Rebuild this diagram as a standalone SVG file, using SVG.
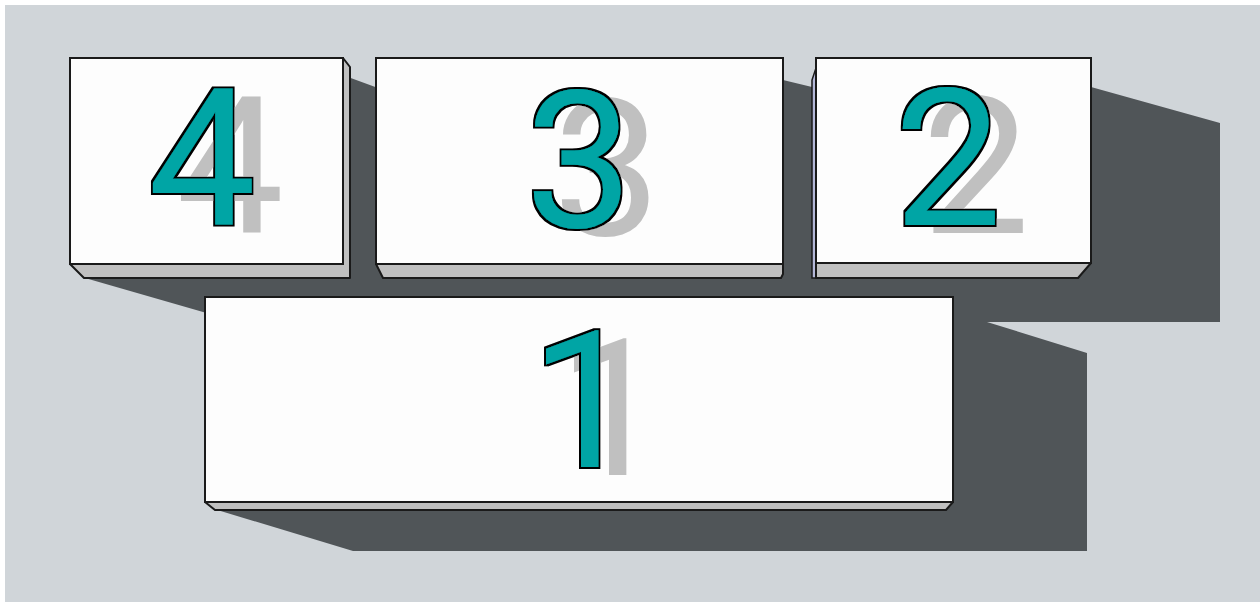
<svg xmlns="http://www.w3.org/2000/svg" width="1260" height="602" viewBox="0 0 1260 602">
<style>
.front{fill:#fdfdfd;stroke:#1a1a1a;stroke-width:2}
.bevel{fill:#c0c0c0;stroke:#1a1a1a;stroke-width:2;stroke-linejoin:round}
.side{fill:#b4b8d8;stroke:#1a1a1a;stroke-width:1.5}
.shadow{fill:#505558}
.num{font-family:Roboto,"Liberation Sans",Arial,sans-serif;font-size:192px;font-weight:400;text-anchor:middle;fill:#00a5a5;filter:url(#ds)}
</style>
<defs>
<filter id="ds" x="-20%" y="-20%" width="160%" height="150%">
<feOffset in="SourceAlpha" dx="28" dy="8" result="o"/>
<feFlood flood-color="#c0c0c0"/>
<feComposite in2="o" operator="in" result="s"/>
<feMorphology in="SourceAlpha" operator="dilate" radius="1.6" result="d"/>
<feFlood flood-color="#000000"/>
<feComposite in2="d" operator="in" result="ol"/>
<feMerge><feMergeNode in="s"/><feMergeNode in="ol"/><feMergeNode in="SourceGraphic"/></feMerge>
</filter>
</defs>
<rect x="0" y="0" width="1260" height="602" fill="#ffffff"/>
<rect x="5" y="5" width="1255" height="597" fill="#d0d5d9"/>
<g id="shadows">
<polygon class="shadow" points="348,77 378,88 783,80 812,87 1091,87 1220,123 1220,322 987,322 1087,353 1087,551 353,551 214,509 214,400 210,400 210,314 85,278 85,270"/>
</g>
<g id="connectors"></g>
<g id="node-4">
<polygon class="bevel" points="70,264 343,264 343,58 350,67 350,278 84,278"/>
<rect class="front" x="70" y="58" width="273" height="206"/>
<text class="num" x="202" y="225">4</text>
</g>
<g id="node-3">
<polygon class="bevel" points="376,264 783,264 783,274 781,278 383,278"/>
<rect class="front" x="376" y="58" width="407" height="206"/>
<text class="num" x="579" y="227">3</text>
</g>
<g id="node-2">
<polygon class="side" points="816,68 812,80 812,278 816,278"/>
<polygon class="bevel" points="816,263 1091,263 1078,278 816,278"/>
<rect class="front" x="816" y="58" width="275" height="205"/>
<text class="num" x="948" y="225">2</text>
</g>
<g id="node-1">
<polygon class="bevel" points="205,502 953,502 946,510 215,510"/>
<rect class="front" x="205" y="297" width="748" height="205"/>
<text class="num" x="584" y="467">1</text>
</g>
</svg>
